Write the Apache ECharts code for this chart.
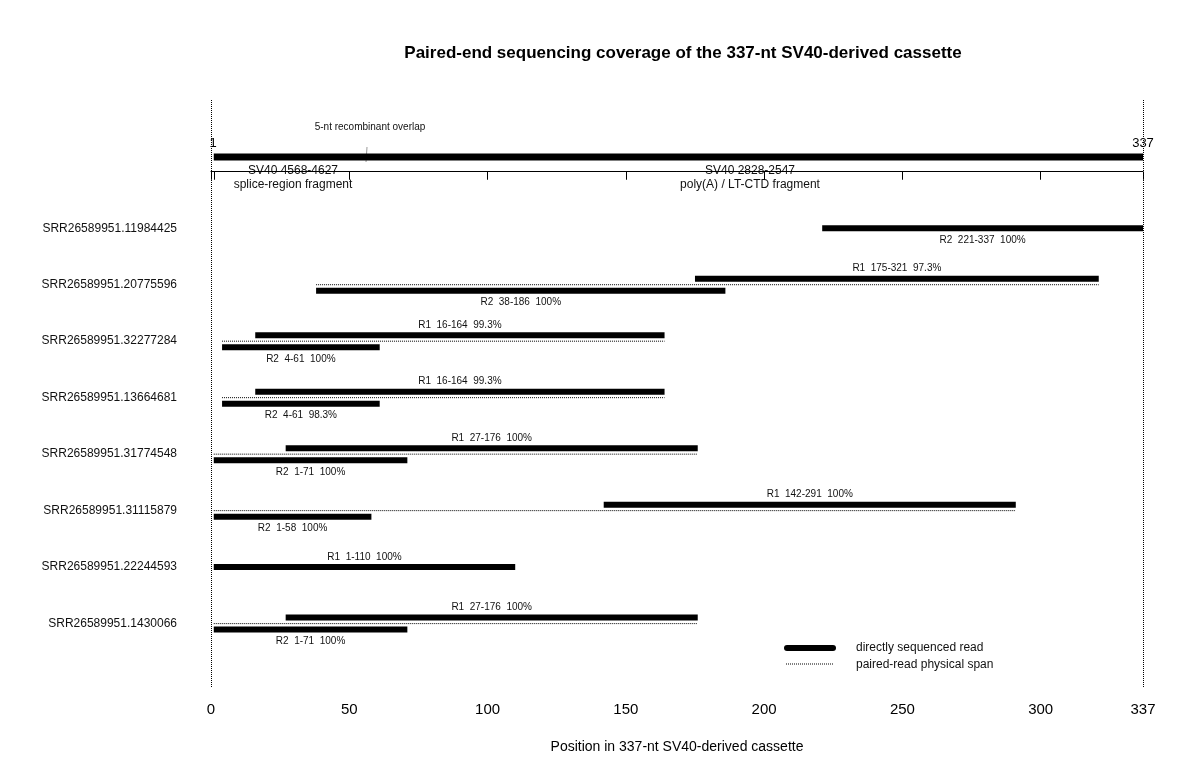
<!DOCTYPE html>
<html><head><meta charset="utf-8">
<script src="https://cdn.jsdelivr.net/npm/echarts@6/dist/echarts.min.js"></script>
<style>html,body{margin:0;background:#fff}#ech{width:1200px;height:781px}</style>
</head><body><div id="ech"></div>
<script>
// read names, top to bottom
var rowNames = ['SRR26589951.11984425','SRR26589951.20775596','SRR26589951.32277284','SRR26589951.13664681',
  'SRR26589951.31774548','SRR26589951.31115879','SRR26589951.22244593','SRR26589951.1430066'];
// R1 reads: [row, start, end, identity]  (null = no R1)
var r1Reads = [null,[2,175,321,'97.3%'],[3,16,164,'99.3%'],[4,16,164,'99.3%'],[5,27,176,'100%'],[6,142,291,'100%'],[7,1,110,'100%'],[8,27,176,'100%']];
// R2 reads
var r2Reads = [[1,221,337,'100%'],[2,38,186,'100%'],[3,4,61,'100%'],[4,4,61,'98.3%'],[5,1,71,'100%'],[6,1,58,'100%'],null,[8,1,71,'100%']];
var cassetteLen = 337;
var overlapPos = 57;
var xTicks = [0,1,50,100,150,200,250,300,337];

var font = 'Liberation Sans, Arial, sans-serif';
var segs = [];
for (var i = 0; i < rowNames.length; i++) {
  var a = r1Reads[i], b = r2Reads[i];
  var paired = a && b;
  if (paired) segs.push({value:[Math.min(a[1],b[1]), Math.max(a[2],b[2]), a[0]], kind:'span'});
  if (a) segs.push({value:[a[1],a[2],a[0]], kind:'read', off: paired ? -6 : 0, label:'R1  '+a[1]+'-'+a[2]+'  '+a[3], above:true});
  if (b) segs.push({value:[b[1],b[2],b[0]], kind:'read', off: paired ? 6 : 0, label:'R2  '+b[1]+'-'+b[2]+'  '+b[3], above:false});
}
segs.push({value:[1,cassetteLen,-0.26], kind:'cassette'});

function renderItem(params, api) {
  var d = segs[params.dataIndex];
  var p0 = api.coord([api.value(0), api.value(2)]);
  var p1 = api.coord([api.value(1), api.value(2)]);
  if (d.kind === 'span') {
    return {type:'line', shape:{x1:p0[0],y1:p0[1],x2:p1[0],y2:p1[1]}, style:{stroke:'#000',lineWidth:1,lineDash:[1,1]}};
  }
  if (d.kind === 'cassette') {
    return {type:'rect', shape:{x:p0[0],y:p0[1]-3.5,width:p1[0]-p0[0],height:7}, style:{fill:'#000'}};
  }
  var y = p0[1] + d.off;
  return {type:'group', children:[
    {type:'rect', shape:{x:p0[0],y:y-3,width:p1[0]-p0[0],height:6}, style:{fill:'#000'}},
    {type:'text', style:{text:d.label, x:(p0[0]+p1[0])/2, y: d.above ? y-10 : y+12, align:'center', verticalAlign:'middle',
      font:'10px '+font, fill:'#111'}}
  ]};
}

var ownChart = echarts.init(document.getElementById('ech'));
var option = {
  animation:false,
  title:{text:'Paired-end sequencing coverage of the 337-nt SV40-derived cassette', left:678, top:40, textAlign:'center',
    textStyle:{fontFamily:font, fontSize:17, fontWeight:'bold', color:'#000'}},
  grid:{left:211, right:57, top:100, bottom:93},
  xAxis:{type:'value', min:0, max:cassetteLen, name:'Position in 337-nt SV40-derived cassette', nameLocation:'middle', nameGap:52,
    nameTextStyle:{fontFamily:font, fontSize:14, color:'#000'},
    splitLine:{show:false},
    axisLine:{lineStyle:{color:'#000'}},
    axisTick:{customValues:xTicks, length:8, lineStyle:{color:'#000'}},
    axisLabel:{customValues:xTicks, fontFamily:font, fontSize:15, color:'#000', margin:14,
      formatter:function(v){return v===1 ? '' : String(v);}}},
  yAxis:{type:'value', inverse:true, min:-1.27, max:9.14,
    axisLine:{show:false}, axisTick:{show:false}, splitLine:{show:false},
    axisLabel:{customValues:[1,2,3,4,5,6,7,8], margin:34, fontFamily:font, fontSize:12, color:'#111',
      formatter:function(v){return rowNames[v-1] || '';}}},
  series:[{type:'custom', renderItem:renderItem, data:segs.map(function(s){return s.value;}), clip:false,
    markLine:{silent:true, symbol:'none', lineStyle:{type:[1,1], color:'#000', width:1}, label:{show:false},
      data:[{xAxis:0},{xAxis:cassetteLen}]}}],
  graphic:[
    {type:'text', x:370, y:127, style:{text:'5-nt recombinant overlap', align:'center', verticalAlign:'middle', font:'10px '+font, fill:'#111'}},
    {type:'line', shape:{x1:367,y1:147,x2:366,y2:162}, style:{stroke:'#999', lineWidth:1}},
    {type:'text', x:213, y:143, style:{text:'1', align:'center', verticalAlign:'middle', font:'13px '+font, fill:'#000'}},
    {type:'text', x:1143, y:143, style:{text:'337', align:'center', verticalAlign:'middle', font:'13px '+font, fill:'#000'}},
    {type:'text', x:293, y:178, style:{text:'SV40 4568-4627\nsplice-region fragment', align:'center', verticalAlign:'middle', lineHeight:14, font:'12px '+font, fill:'#111'}},
    {type:'text', x:750, y:178, style:{text:'SV40 2828-2547\npoly(A) / LT-CTD fragment', align:'center', verticalAlign:'middle', lineHeight:14, font:'12px '+font, fill:'#111'}},
    {type:'rect', shape:{x:784,y:645,width:52,height:6,r:3}, style:{fill:'#000'}},
    {type:'line', shape:{x1:786,y1:664,x2:834,y2:664}, style:{stroke:'#000', lineWidth:1, lineDash:[1,1]}},
    {type:'text', x:856, y:648, style:{text:'directly sequenced read', verticalAlign:'middle', font:'12px '+font, fill:'#111'}},
    {type:'text', x:856, y:665, style:{text:'paired-read physical span', verticalAlign:'middle', font:'12px '+font, fill:'#111'}}
  ]
};
ownChart.setOption(option);
</script></body></html>
